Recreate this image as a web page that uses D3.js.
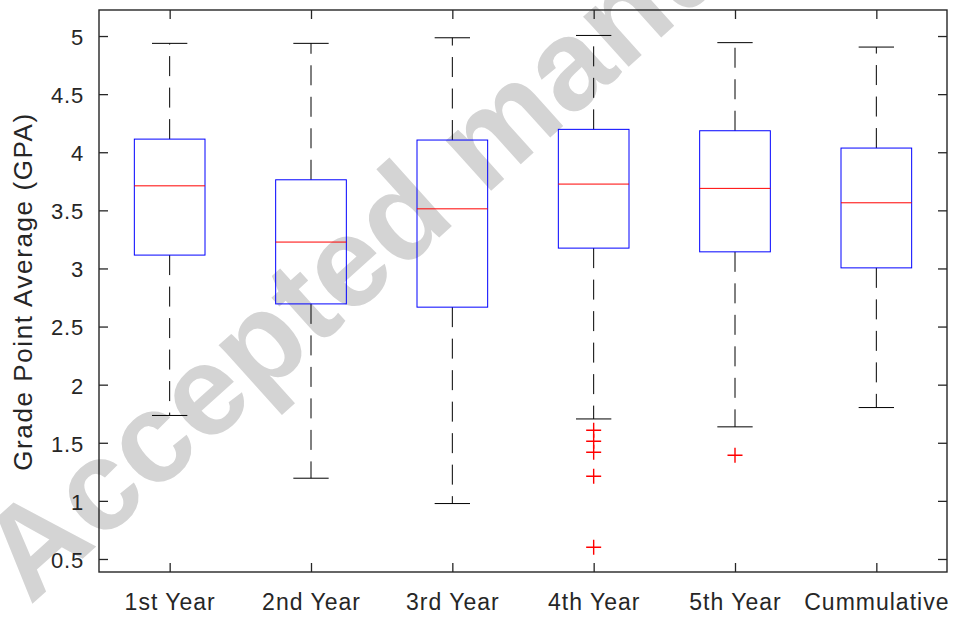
<!DOCTYPE html>
<html>
<head>
<meta charset="utf-8">
<script src="https://cdn.jsdelivr.net/npm/d3@7"></script>
<style>
  html, body { margin: 0; padding: 0; background: #fff; }
  svg { display: block; }
  text { font-family: "Liberation Sans", Arial, Helvetica, sans-serif; }
</style>
</head>
<body>
<svg id="chart" width="958" height="617"></svg>
<script>
// ---- data ----
const categories = ["1st Year", "2nd Year", "3rd Year", "4th Year", "5th Year", "Cummulative"];
const whiskerLow  = [1.735, 1.195, 0.977, 1.705, 1.637, 1.803];
const q1          = [3.115, 2.695, 2.667, 3.175, 3.143, 3.005];
const medians     = [3.711, 3.227, 3.513, 3.726, 3.689, 3.565];
const q3          = [4.113, 3.763, 4.105, 4.197, 4.185, 4.036];
const whiskerHigh = [4.937, 4.937, 4.985, 5.005, 4.943, 4.905];
const outliers    = [[], [], [], [1.608, 1.513, 1.419, 1.212, 0.601], [1.393], []];
const yTicks      = [0.5, 1, 1.5, 2, 2.5, 3, 3.5, 4, 4.5, 5];
const yLabel      = "Grade Point Average (GPA)";
const watermark   = "Accepted manuscript";

// ---- layout ----
const W = 958, H = 617;
const m = { left: 99, right: 11, top: 10, bottom: 45 };
const x0 = m.left, x1 = W - m.right, y0 = m.top, y1 = H - m.bottom;
const axisColor = "#262626";

const svg = d3.select("#chart");

// watermark (behind the chart)
svg.append("text")
  .attr("transform", "translate(30,606) rotate(-42)")
  .attr("font-size", 128)
  .attr("font-weight", "bold")
  .attr("fill", "#d4d4d4")
  .text(watermark);

const x = d3.scaleLinear().domain([0.5, categories.length + 0.5]).range([x0, x1]);
const y = d3.scaleLinear().domain([0.388, 5.224]).range([y1, y0]);

const idx = categories.map((_, i) => i);
const boxHalf = 0.25, capHalf = 0.125;

const g = svg.append("g");

// whiskers (dashed)
g.selectAll(".wHi").data(idx).join("line")
  .attr("x1", i => x(i + 1)).attr("x2", i => x(i + 1))
  .attr("y1", i => y(q3[i])).attr("y2", i => y(whiskerHigh[i]))
  .attr("stroke", "#000").attr("stroke-width", 1).attr("stroke-dasharray", "20,11.5");
g.selectAll(".wLo").data(idx).join("line")
  .attr("x1", i => x(i + 1)).attr("x2", i => x(i + 1))
  .attr("y1", i => y(q1[i])).attr("y2", i => y(whiskerLow[i]))
  .attr("stroke", "#000").attr("stroke-width", 1).attr("stroke-dasharray", "20,11.5");

// caps
[whiskerHigh, whiskerLow].forEach(arr => {
  g.selectAll(null).data(idx).join("line")
    .attr("x1", i => x(i + 1 - capHalf)).attr("x2", i => x(i + 1 + capHalf))
    .attr("y1", i => y(arr[i])).attr("y2", i => y(arr[i]))
    .attr("stroke", "#000").attr("stroke-width", 1);
});

// boxes
g.selectAll(".box").data(idx).join("rect")
  .attr("x", i => x(i + 1 - boxHalf))
  .attr("width", i => x(i + 1 + boxHalf) - x(i + 1 - boxHalf))
  .attr("y", i => y(q3[i]))
  .attr("height", i => y(q1[i]) - y(q3[i]))
  .attr("fill", "none").attr("stroke", "#0000ff").attr("stroke-width", 1);

// medians
g.selectAll(".med").data(idx).join("line")
  .attr("x1", i => x(i + 1 - boxHalf)).attr("x2", i => x(i + 1 + boxHalf))
  .attr("y1", i => y(medians[i])).attr("y2", i => y(medians[i]))
  .attr("stroke", "#ff0000").attr("stroke-width", 1);

// outliers '+'
const pts = [];
outliers.forEach((arr, i) => arr.forEach(v => pts.push({ i, v })));
const ps = 7.5;
g.selectAll(".out").data(pts).join("path")
  .attr("d", d => {
    const cx = x(d.i + 1), cy = y(d.v);
    return `M${cx - ps},${cy}H${cx + ps}M${cx},${cy - ps}V${cy + ps}`;
  })
  .attr("stroke", "#ff0000").attr("stroke-width", 1.4).attr("fill", "none");

// ---- axes ----
const tickLen = 9;
const fmt = d3.format("~g");

const yAxisL = svg.append("g").attr("transform", `translate(${x0},0)`)
  .call(d3.axisLeft(y).tickValues(yTicks).tickFormat(fmt).tickSizeInner(-tickLen).tickSizeOuter(0).tickPadding(15));
const yAxisR = svg.append("g").attr("transform", `translate(${x1},0)`)
  .call(d3.axisRight(y).tickValues(yTicks).tickFormat("").tickSizeInner(-tickLen).tickSizeOuter(0));
const xTicks = idx.map(i => i + 1);
const xAxisB = svg.append("g").attr("transform", `translate(0,${y1})`)
  .call(d3.axisBottom(x).tickValues(xTicks).tickFormat(d => categories[d - 1]).tickSizeInner(-tickLen).tickSizeOuter(0).tickPadding(22));
const xAxisT = svg.append("g").attr("transform", `translate(0,${y0})`)
  .call(d3.axisTop(x).tickValues(xTicks).tickFormat("").tickSizeInner(-tickLen).tickSizeOuter(0));

[yAxisL, yAxisR, xAxisB, xAxisT].forEach(a => {
  a.select(".domain").remove();
  a.selectAll(".tick line").attr("stroke", axisColor).attr("stroke-width", 1.3);
  a.selectAll(".tick text").attr("fill", axisColor).attr("font-family", "'Liberation Sans', Arial, sans-serif");
});
yAxisL.selectAll(".tick text").attr("font-size", 22).attr("letter-spacing", 0.8).attr("dy", "0.38em");
xAxisB.selectAll(".tick text").attr("font-size", 23).attr("letter-spacing", 1.0).attr("dy", "0.71em");

// frame
svg.append("rect")
  .attr("x", x0).attr("y", y0).attr("width", x1 - x0).attr("height", y1 - y0)
  .attr("fill", "none").attr("stroke", axisColor).attr("stroke-width", 1.4);

// y label
svg.append("text")
  .attr("transform", `translate(32,${(108 + 475) / 2}) rotate(-90)`)
  .attr("text-anchor", "middle")
  .attr("font-size", 26)
  .attr("letter-spacing", 1.6)
  .attr("fill", axisColor)
  .text(yLabel);
</script>
</body>
</html>
